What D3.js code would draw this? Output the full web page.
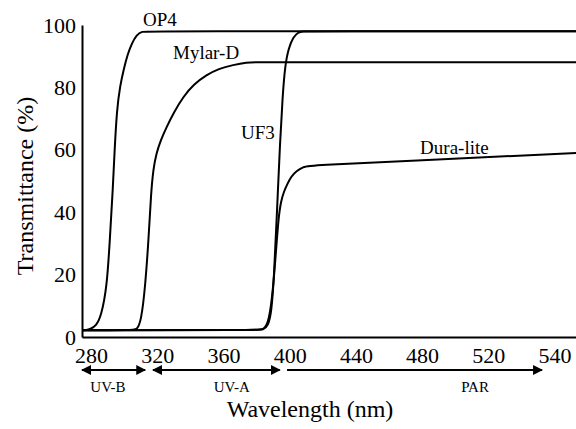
<!DOCTYPE html>
<html>
<head>
<meta charset="utf-8">
<script src="https://cdn.jsdelivr.net/npm/d3@7"></script>
</head>
<body style="margin:0">
<svg id="chart" width="576" height="429"></svg>
<script>
/* ----- data (wavelength nm, transmittance %) ---------------- */
const op4 = [[274.5,2.2],[277,2.2],[279.5,2.5],[283,3.6],[286,6.5],[289.6,16],[291.4,32],[293.2,48],
             [294.2,60],[295.6,73],[297.5,80.5],[299.8,86],[302,90.5],[304.7,94.2],[307.5,96.8],
             [310.7,98],[315,98],[573,98]];
const mylar = [[274.5,2.2],[305,2.2],[307.7,2.3],[310.2,5],[312.7,16],[314.8,32],[316.2,46],[317.6,54],
               [319.5,59],[322,63],[325.6,67.3],[330,72],[335.7,77],[342,81],[349.8,84],[357,86],
               [365.9,87.2],[374,88],[380,88.1],[390,88.1],[573,88.1]];
const uf3 = [[274.5,2.2],[380,2.2],[384,2.3],[387,3.5],[389,8],[390.5,19],[392.2,38.6],[394.2,63],
             [395.7,77],[397.2,87],[399.3,92.5],[402.2,96.2],[405,97.6],[408,98],[412,98],[573,98]];
const dura = [[274.5,2.2],[381,2.2],[384.5,2.4],[387.5,5],[389.9,15],[391.8,28],[393.2,38],[394.7,43.5],
              [396.5,46.6],[398.5,49],[401,51.5],[404,53.2],[408.2,54.5],[412,55],[478.8,56.6],[573,59]];

const seriesNames = ['OP4','Mylar-D','UF3','Dura-lite'];
const seriesData  = [op4, mylar, uf3, dura];
const labelAt     = [[311.4,99.7],[329.5,89],[370.6,63.5],[478.8,58.6]];

const xTickValues = [280,320,360,400,440,480,520,560];
const xTickLabels = ['280','320','360','400','440','480','520','540'];
const yTickValues = [0,20,40,60,80,100];

const bandNames = ['UV-B','UV-A','PAR'];
const bandFrom  = [274.5,317.4,398.4];
const bandTo    = [312.7,394,552.5];
const bandMid   = [290.2,365,512];
const bandTwoWay = [true,true,false];

const FONT = '"Liberation Serif"';

/* ----- SVG setup -------------------------------------------- */
const svg = d3.select('#chart');
const x = d3.scaleLinear().domain([274.5,573]).range([82,576]);
const y = d3.scaleLinear().domain([0,100]).range([337,25]);

/* ----- axes -------------------------------------------------- */
const gx = svg.append('g')
  .attr('transform',`translate(0,${y(0)})`)
  .call(d3.axisBottom(x).tickValues(xTickValues).tickSize(0).tickPadding(10)
          .tickFormat((d,i)=>xTickLabels[i]));
gx.select('.domain').attr('stroke','#000').attr('stroke-width',2);
gx.selectAll('text').style('font-family',FONT).style('font-size','22px').attr('fill','#000');

const gy = svg.append('g')
  .attr('transform',`translate(${x(274.5)},0)`)
  .call(d3.axisLeft(y).tickValues(yTickValues).tickSize(0).tickPadding(6));
gy.select('.domain').attr('stroke','#000').attr('stroke-width',2);
gy.selectAll('text').style('font-family',FONT).style('font-size','22px').attr('fill','#000');

svg.append('text')
  .attr('transform','translate(33,186) rotate(-90)')
  .attr('text-anchor','middle')
  .style('font-family',FONT).style('font-size','24px')
  .text('Transmittance (%)');

svg.append('text')
  .attr('x',310).attr('y',417)
  .attr('text-anchor','middle')
  .style('font-family',FONT).style('font-size','24px')
  .text('Wavelength (nm)');

/* ----- curves ------------------------------------------------ */
const line = d3.line()
  .x(d=>x(d[0])).y(d=>y(d[1]))
  .curve(d3.curveBasis);

svg.append('g').selectAll('path')
  .data(seriesData)
  .join('path')
    .attr('d',line)
    .attr('fill','none')
    .attr('stroke','#000')
    .attr('stroke-width',2);

svg.append('g').selectAll('text')
  .data(seriesNames)
  .join('text')
    .attr('x',(d,i)=>x(labelAt[i][0]))
    .attr('y',(d,i)=>y(labelAt[i][1]))
    .style('font-family',FONT).style('font-size','19px')
    .text(d=>d);

/* ----- spectral bands --------------------------------------- */
const defs = svg.append('defs');
defs.append('marker')
  .attr('id','arrowEnd')
  .attr('viewBox','0 0 10 10').attr('refX',9).attr('refY',5)
  .attr('markerWidth',5).attr('markerHeight',5)
  .attr('markerUnits','strokeWidth')
  .attr('orient','auto-start-reverse')
  .append('path').attr('d','M0,0L10,5L0,10z').attr('fill','#000');

const bandY = 370;
const bands = svg.append('g');
bandNames.forEach((name,i)=>{
  bands.append('line')
    .attr('x1',x(bandFrom[i])).attr('x2',x(bandTo[i]))
    .attr('y1',bandY).attr('y2',bandY)
    .attr('stroke','#000').attr('stroke-width',2)
    .attr('marker-end','url(#arrowEnd)')
    .attr('marker-start',bandTwoWay[i] ? 'url(#arrowEnd)' : null);
  bands.append('text')
    .attr('x',x(bandMid[i])).attr('y',392)
    .attr('text-anchor','middle')
    .style('font-family',FONT).style('font-size','15px')
    .text(name);
});
</script>
</body>
</html>
